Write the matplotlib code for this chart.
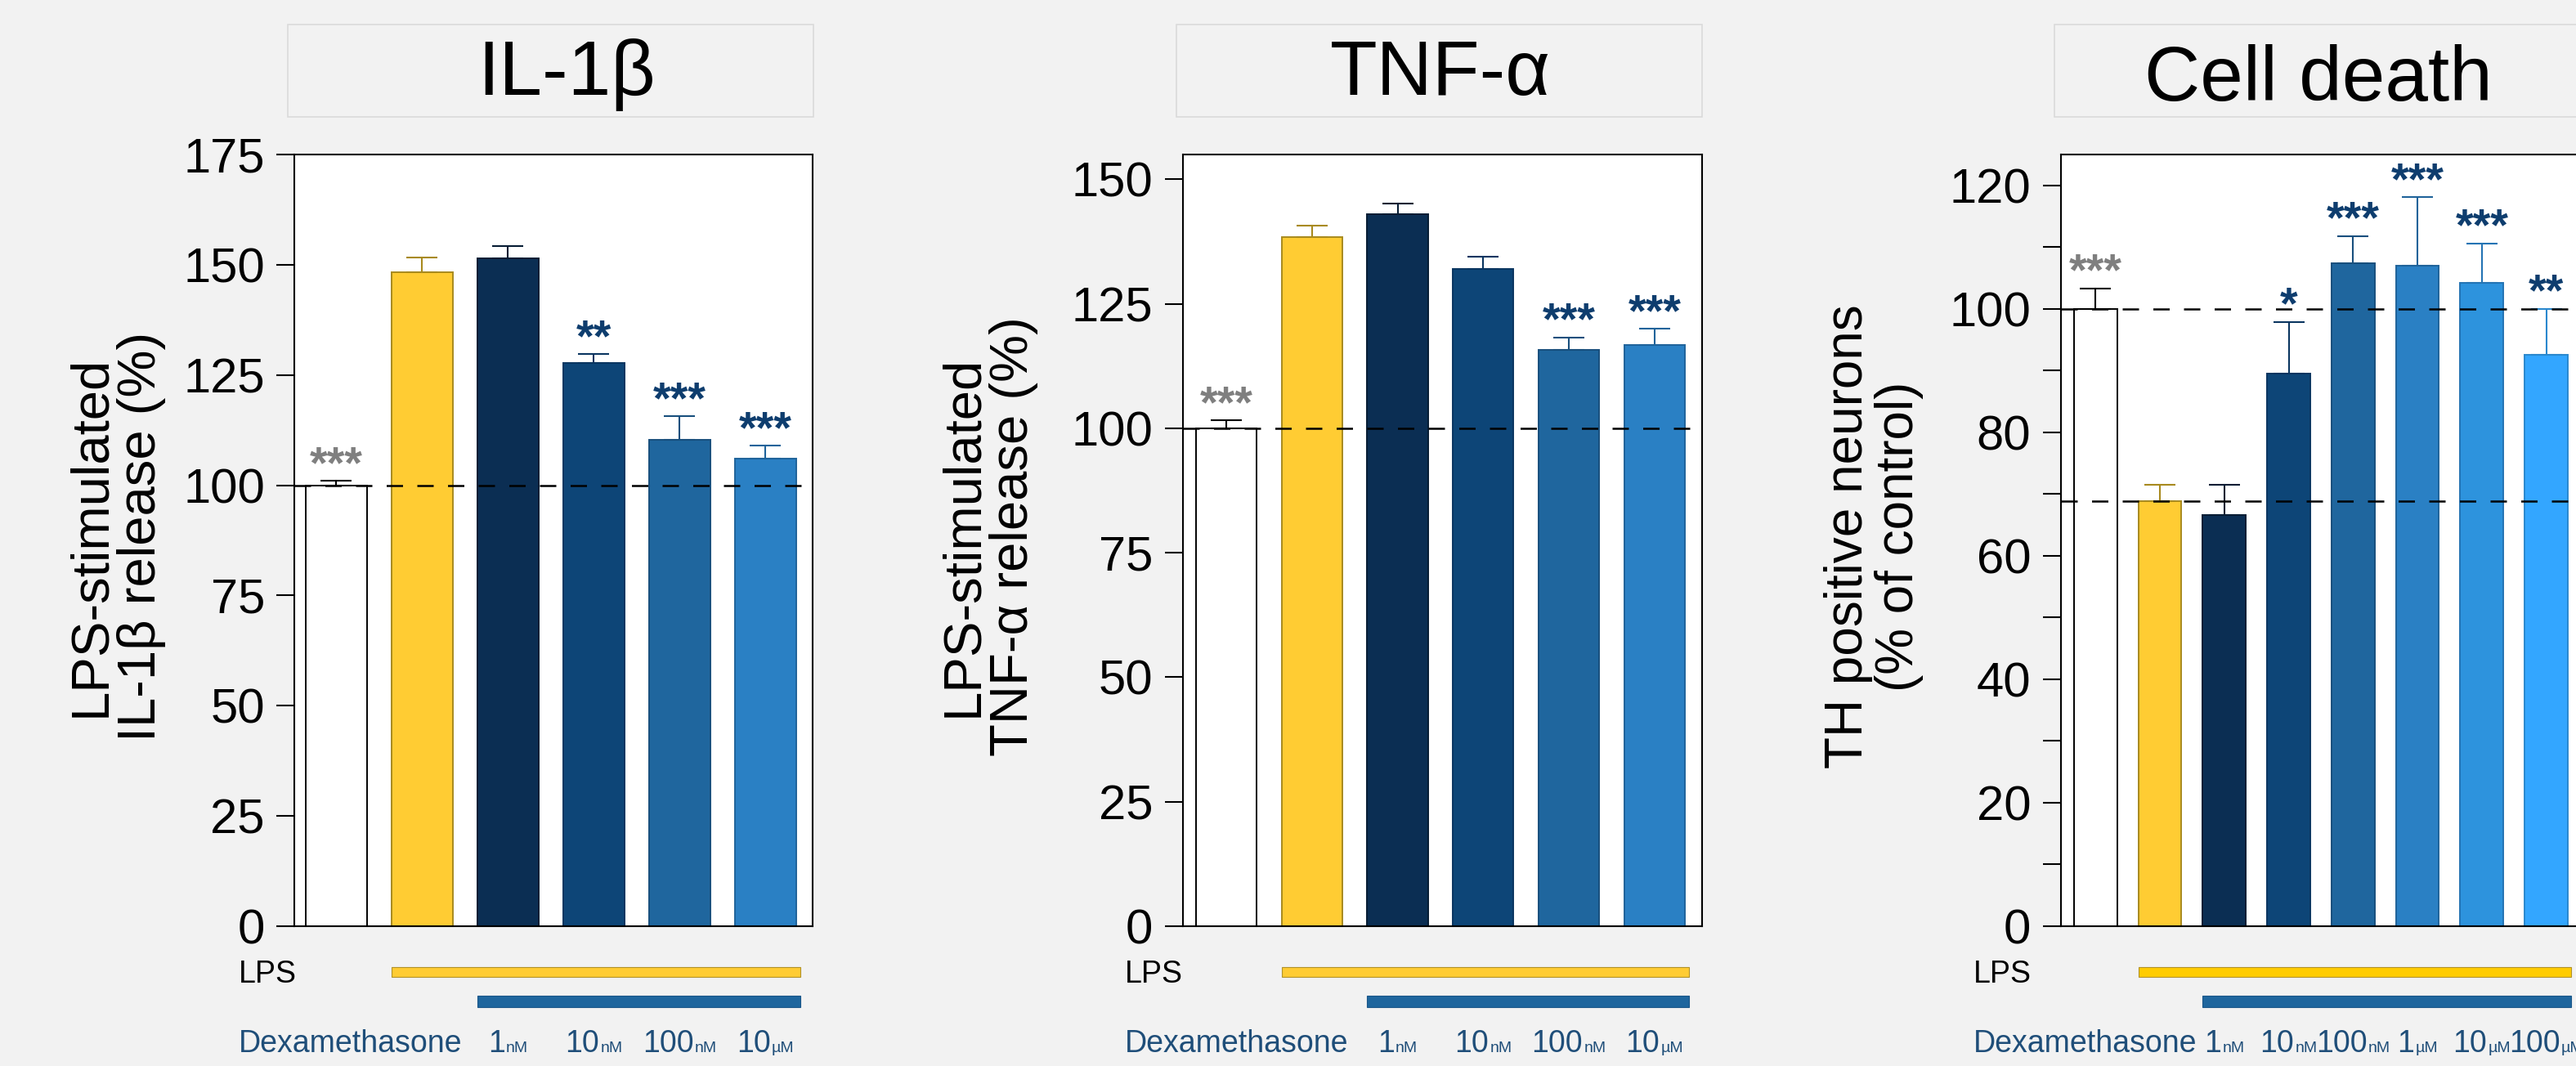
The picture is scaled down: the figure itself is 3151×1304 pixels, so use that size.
import numpy as np
import matplotlib
matplotlib.use("Agg")
import matplotlib.pyplot as plt
from matplotlib.patches import Rectangle
from matplotlib.transforms import blended_transform_factory
from matplotlib.offsetbox import TextArea, HPacker, AnnotationBbox

plt.rcParams['font.family'] = ['Liberation Sans', 'DejaVu Sans']

# ---- data (% of control / % of LPS-free) ----
il1b_mean = [100, 148.3, 151.4, 127.8, 110.3, 106.1]
il1b_sem = [1.0, 3.4, 2.9, 1.9, 5.3, 2.9]
il1b_stars = ['***', '', '', '**', '***', '***']

tnfa_mean = [100, 138.4, 143.0, 132.0, 115.7, 116.8]
tnfa_sem = [1.6, 2.3, 2.2, 2.4, 2.6, 3.2]
tnfa_stars = ['***', '', '', '', '***', '***']

th_mean = [100, 68.8, 66.6, 89.5, 107.4, 107.0, 104.2, 92.6]
th_sem = [3.3, 2.7, 4.9, 8.4, 4.4, 11.1, 6.4, 7.4]
th_stars = ['***', '', '', '*', '***', '***', '***', '**']

doses_short = [('1', 'nM'), ('10', 'nM'), ('100', 'nM'), ('10', 'µM')]
doses_long = [('1', 'nM'), ('10', 'nM'), ('100', 'nM'), ('1', 'µM'), ('10', 'µM'), ('100', 'µM')]

# ---- colours ----
BG = '#F2F2F2'
TXT_BLUE = '#1F4E79'
STAR_BLUE = '#0E3D6E'
STAR_GRAY = '#7F7F7F'
fills6 = ['white', '#FFCC33', '#0B2E53', '#0D4577', '#1F669E', '#2A80C4']
edges6 = ['black', '#A88A1E', '#061C33', '#0A3560', '#184F7D', '#1F639A']
fills8 = ['white', '#FFCC33', '#0B2E53', '#0D4577', '#1F669E', '#2A80C4', '#2D93DD', '#33A6FF']
edges8 = ['black', '#A88A1E', '#061C33', '#0A3560', '#184F7D', '#1F639A', '#2474B4', '#2A88CE']

W, H = 3151, 1304
fig = plt.figure(figsize=(W / 100, H / 100), dpi=100, facecolor=BG)

ax_top, ax_bot = 189, 1133
def add_panel(left_px, width_px):
    return fig.add_axes([left_px / W, 1 - ax_bot / H, width_px / W, (ax_bot - ax_top) / H])


def draw_panel(ax, means, sems, stars, fills, edges, ylim, yticks, minor, xlim, width,
               title, title_x, title_base, ylabel, ylab_x, ylab_size, doses, lps_x,
               refs, lps_color):
    x = np.arange(len(means))
    ax.set_facecolor('white')
    ax.bar(x, means, width=width, color=fills, edgecolor=edges, linewidth=1.4, zorder=2)
    for xi, m, s, c in zip(x, means, sems, edges):
        ax.errorbar(xi, m, yerr=[[0], [s]], fmt='none', ecolor=c, elinewidth=1.5,
                    capsize=14, capthick=1.5, zorder=3)
    for r in refs:
        ax.axhline(r, color='black', lw=1.8, linestyle=(0, (8, 7)), zorder=4)
    for xi, m, s, st in zip(x, means, sems, stars):
        if st:
            ax.annotate(st, (xi, m + s), xytext=(0, 3), textcoords='offset points',
                        ha='center', va='baseline', fontsize=40, fontweight='bold',
                        color=STAR_GRAY if xi == 0 else STAR_BLUE, zorder=5)

    ax.set_xlim(*xlim)
    ax.set_ylim(*ylim)
    ax.set_yticks(yticks)
    if minor is not None:
        ax.set_yticks(minor, minor=True)
    ax.set_xticks([])
    ax.tick_params(axis='y', which='both', direction='out', length=16, width=1.5,
                   labelsize=43, pad=10)
    for sp in ax.spines.values():
        sp.set_linewidth(1.5)

    # header box with the panel name
    box = Rectangle((-0.012, 1.0487), 1.013, 0.1197, transform=ax.transAxes,
                    facecolor=BG, edgecolor='#DADADA', lw=1.2, clip_on=False)
    ax.add_patch(box)
    ax.text(title_x, title_base, title, transform=ax.transAxes, ha='center',
            va='baseline', fontsize=68)

    ax.text(ylab_x, 0.505, ylabel, transform=ax.transAxes, rotation=90, ha='center',
            va='center', fontsize=ylab_size, linespacing=1.05)

    # treatment rows under the axis
    tr = blended_transform_factory(ax.transData, ax.transAxes)
    n = len(means)
    half = width / 2
    ax.add_patch(Rectangle((1 - half, -0.0657), (n - 1 + half + 0.05) - (1 - half), 0.0127,
                           transform=tr, facecolor=lps_color, edgecolor='#B0922A', lw=0.8,
                           clip_on=False))
    ax.add_patch(Rectangle((2 - half, -0.1049), (n - 1 + half + 0.05) - (2 - half), 0.0148,
                           transform=tr, facecolor='#1F669E', edgecolor='#1A5689', lw=0.8,
                           clip_on=False))
    ax.text(lps_x, -0.0625, 'LPS', transform=tr, ha='left', va='center', fontsize=27)
    ax.text(lps_x, -0.1525, 'Dexamethasone', transform=tr, ha='left', va='center',
            fontsize=27, color=TXT_BLUE)
    for xi, (num, unit) in zip(range(2, n), doses):
        pack = HPacker(children=[TextArea(num, textprops=dict(fontsize=27, color=TXT_BLUE)),
                                 TextArea(unit, textprops=dict(fontsize=14, color=TXT_BLUE))],
                       align='baseline', pad=0, sep=1)
        ab = AnnotationBbox(pack, (xi, -0.1525), xycoords=tr, frameon=False,
                            box_alignment=(0.5, 0.5), pad=0, annotation_clip=False)
        ax.add_artist(ab)


ax1 = add_panel(360, 634)
draw_panel(ax1, il1b_mean, il1b_sem, il1b_stars, fills6, edges6, (0, 175),
           np.arange(0, 176, 25), None, (-0.49, 5.55), 0.71,
           'IL-1β', 0.525, 1.0773, 'LPS-stimulated\nIL-1β release (%)', -0.344, 47,
           doses_short, -1.14, [100], '#FFCC33')

ax2 = add_panel(1446.5, 635)
draw_panel(ax2, tnfa_mean, tnfa_sem, tnfa_stars, fills6, edges6, (0, 155),
           np.arange(0, 151, 25), None, (-0.51, 5.55), 0.71,
           'TNF-α', 0.497, 1.0773, 'LPS-stimulated\nTNF-α release (%)', -0.374, 47,
           doses_short, -1.18, [100], '#FFCC33')

ax3 = add_panel(2520.6, 637.4)
draw_panel(ax3, th_mean, th_sem, th_stars, fills8, edges8, (0, 125),
           np.arange(0, 121, 20), np.arange(10, 121, 20), (-0.54, 7.55), 0.67,
           'Cell death', 0.494, 1.0694, 'TH positive neurons\n(% of control)', -0.359, 46,
           doses_long, -1.90, [100, th_mean[1]], '#FFCC00')

fig.savefig('out.png', dpi=100, facecolor=BG)
